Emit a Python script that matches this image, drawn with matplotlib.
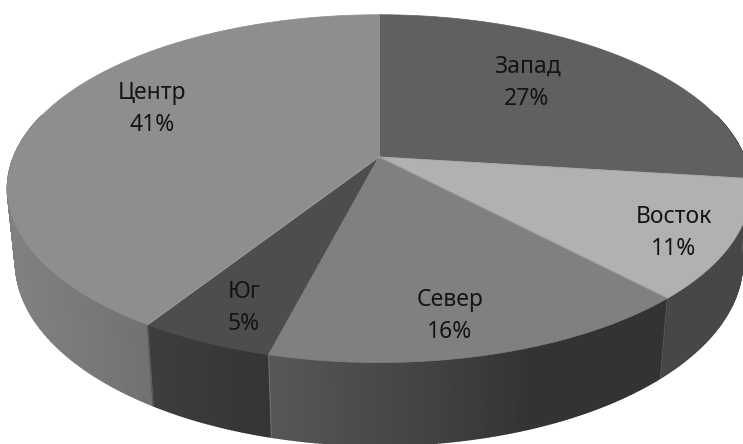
import numpy as np
import matplotlib
matplotlib.use("Agg")
import matplotlib.pyplot as plt
from matplotlib.patches import Polygon
from matplotlib.colors import to_rgb

# ---- data ----
regions = ["Запад", "Восток", "Север", "Юг", "Центр"]
shares = [27, 11, 16, 5, 41]

# ---- style ----
top_colors = ["#606060", "#b1b1b1", "#808080", "#4d4d4d", "#8e8e8e"]
# label anchors: (x centre, baseline of the first line) in pixels
label_anchor = [(527, 73), (674, 223), (450, 306), (244, 298), (152, 99)]
LINE_GAP = 31.5
FONT = ["Noto Sans", "DejaVu Sans"]
FONT_SIZE = 16.5

# ---- camera for the 3-D disc ----
W, H = 743, 444
ELEV = np.radians(27.4)
DIST = 4.88
SCALE = 1783.0
THICK = 0.228
CX, CY = 379.0, 157.0
sa, ca = np.sin(ELEV), np.cos(ELEV)


def project(x, y, z):
    """Perspective projection of world points (x right, y up, z to viewer)."""
    vx = np.asarray(x, float)
    vy = np.asarray(y, float) - DIST * sa
    vz = np.asarray(z, float) - DIST * ca
    depth = -(vy * sa + vz * ca)
    yu = vy * ca - vz * sa
    return CX + SCALE * vx / depth, CY - SCALE * yu / depth


def rim(phi_deg, level=0.0):
    p = np.radians(phi_deg)
    return project(np.cos(p), np.full_like(p, level), -np.sin(p))


def shade(phi_deg):
    """Brightness factor of the outer wall, lit from the front-left."""
    d = np.cos(np.radians(phi_deg + 160.0))
    return 0.40 + 0.50 * np.clip(d, 0, None)


# slice angle ranges, clockwise from 12 o'clock
total = float(sum(shares))
cum = np.concatenate([[0.0], np.cumsum(shares)]) / total
starts = 90.0 - 360.0 * cum[:-1]
ends = 90.0 - 360.0 * cum[1:]

fig = plt.figure(figsize=(W / 100, H / 100), dpi=100)
ax = fig.add_axes([0, 0, 1, 1])
ax.set_xlim(0, W)
ax.set_ylim(H, 0)
ax.axis("off")

# ---- outer wall, drawn back to front ----
VIS_LO, VIS_HI = -195.0, 15.0
pieces = []
for i in range(len(shares)):
    lo = max(ends[i], VIS_LO)
    hi = min(starts[i], VIS_HI)
    if hi <= lo:
        continue
    n = max(2, int((hi - lo) / 0.5))
    grid = np.linspace(hi, lo, n + 1)
    base = np.array(to_rgb(top_colors[i]))
    for a, b in zip(grid[:-1], grid[1:]):
        mid = 0.5 * (a + b)
        pieces.append((-np.sin(np.radians(mid)), a, b, np.clip(base * shade(mid), 0, 1)))

pieces.sort(key=lambda t: t[0])
for _, a, b, col in pieces:
    seg = np.array([a, b])
    tx, ty = rim(seg, 0.0)
    bx, by = rim(seg, -THICK)
    poly = np.column_stack([np.r_[tx, bx[::-1]], np.r_[ty, by[::-1]]])
    ax.add_patch(Polygon(poly, closed=True, facecolor=col, edgecolor=col,
                         linewidth=1.1, joinstyle="miter", zorder=1))

# seams between wall segments
for ang in list(starts) + [ends[-1]]:
    a = ((ang + 270.0) % 360.0) - 270.0
    if VIS_LO + 12 < a < VIS_HI - 12:
        tx, ty = rim(np.array([a]), 0.0)
        bx, by = rim(np.array([a]), -THICK)
        ax.plot([tx[0], bx[0]], [ty[0], by[0]], color="#9a9a9a", lw=0.6,
                alpha=0.45, zorder=2)

# ---- top face ----
ox, oy = project(0.0, 0.0, 0.0)
for i in range(len(shares)):
    n = max(4, int(abs(starts[i] - ends[i]) / 0.5))
    arc = np.linspace(starts[i], ends[i], n + 1)
    ax_, ay_ = rim(arc, 0.0)
    poly = np.column_stack([np.r_[ox, ax_], np.r_[oy, ay_]])
    ax.add_patch(Polygon(poly, closed=True, facecolor=top_colors[i],
                         edgecolor=top_colors[i], linewidth=0.5, zorder=3))

# light radial edges between slices
for ang in starts:
    ex, ey = rim(np.array([ang]), 0.0)
    ax.plot([ox, ex[0]], [oy, ey[0]], color="#a6a6a6", lw=0.7, alpha=0.6,
            zorder=4)

# ---- labels ----
for name, val, (lx, ly) in zip(regions, shares, label_anchor):
    ax.text(lx, ly, name, ha="center", va="baseline", fontsize=FONT_SIZE,
            family=FONT, color="#141414", zorder=5)
    ax.text(lx, ly + LINE_GAP, f"{val}%", ha="center", va="baseline",
            fontsize=FONT_SIZE, family=FONT, color="#141414", zorder=5)

fig.savefig("out.png", dpi=100, facecolor="white")
